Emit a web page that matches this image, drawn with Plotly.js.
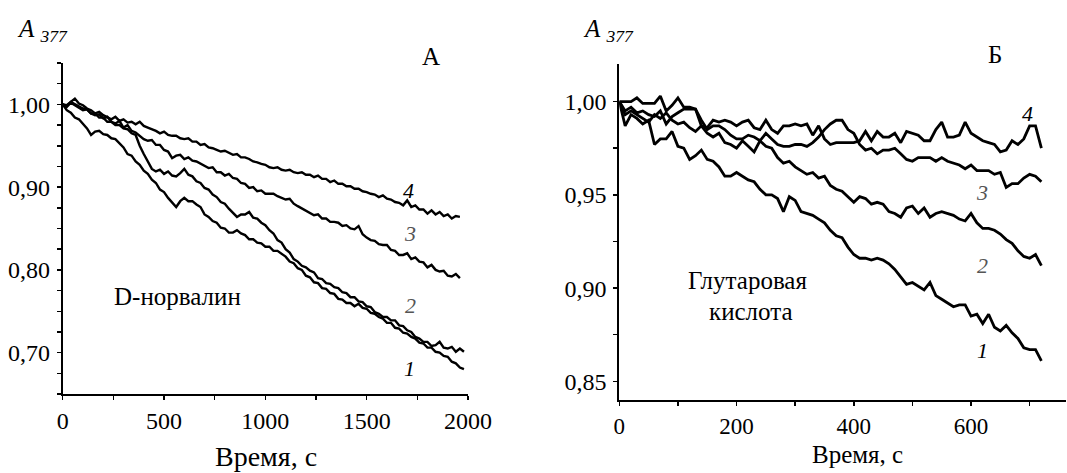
<!DOCTYPE html>
<html>
<head>
<meta charset="utf-8">
<script src="https://cdn.plot.ly/plotly-3.0.1.min.js"></script>
<style>
html,body{margin:0;padding:0;background:#fff;}
#chart{width:1067px;height:473px;}
</style>
</head>
<body>
<div id="chart"></div>
<script>
// ---------- Panel A: D-норвалин ----------
const timeA = [0,20,40,60,80,100,120,140,160,180,200,220,240,260,280,300,320,340,360,380,
  400,420,440,460,480,500,520,540,560,580,600,620,640,660,680,700,720,740,760,780,
  800,820,840,860,880,900,920,940,960,980,1000,1020,1040,1060,1080,1100,1120,1140,1160,1180,
  1200,1220,1240,1260,1280,1300,1320,1340,1360,1380,1400,1420,1440,1460,1480,1500,1520,1540,1560,1580,
  1600,1620,1640,1660,1680,1700,1720,1740,1760,1780,1800,1820,1840,1860,1880,1900,1920,1940,1960,1980];

const curveA1 = [1.000,0.993,0.990,0.984,0.982,0.976,0.971,0.963,0.967,0.968,
  0.964,0.963,0.959,0.958,0.953,0.948,0.940,0.938,0.931,0.927,
  0.920,0.916,0.909,0.905,0.897,0.894,0.887,0.881,0.876,0.883,
  0.887,0.883,0.883,0.879,0.876,0.867,0.864,0.859,0.857,0.851,
  0.850,0.845,0.845,0.848,0.844,0.842,0.837,0.837,0.833,0.832,
  0.828,0.828,0.823,0.823,0.819,0.816,0.810,0.808,0.802,0.800,
  0.793,0.791,0.785,0.784,0.778,0.777,0.772,0.771,0.765,0.764,
  0.760,0.760,0.756,0.759,0.754,0.753,0.748,0.747,0.743,0.741,
  0.736,0.736,0.730,0.729,0.724,0.723,0.719,0.717,0.712,0.711,
  0.706,0.706,0.701,0.700,0.696,0.695,0.689,0.687,0.682,0.680];

const curveA2 = [1.000,0.999,1.003,1.000,0.998,0.995,0.994,0.989,0.989,0.984,
  0.984,0.979,0.979,0.975,0.975,0.971,0.970,0.965,0.963,0.950,
  0.940,0.930,0.922,0.919,0.921,0.916,0.919,0.914,0.913,0.917,
  0.922,0.915,0.913,0.907,0.905,0.899,0.897,0.891,0.888,0.882,
  0.880,0.874,0.869,0.864,0.867,0.867,0.870,0.863,0.862,0.857,
  0.854,0.848,0.844,0.836,0.833,0.825,0.821,0.813,0.810,0.805,
  0.803,0.799,0.797,0.790,0.789,0.784,0.783,0.779,0.778,0.773,
  0.772,0.767,0.767,0.762,0.761,0.756,0.755,0.749,0.747,0.743,
  0.743,0.739,0.739,0.733,0.732,0.727,0.725,0.719,0.717,0.713,
  0.713,0.708,0.709,0.713,0.706,0.705,0.707,0.701,0.705,0.701];

const curveA3 = [1.000,0.997,1.002,0.999,0.996,0.993,0.994,0.989,0.987,0.988,
  0.983,0.985,0.979,0.977,0.980,0.972,0.975,0.968,0.966,0.962,
  0.958,0.956,0.957,0.951,0.951,0.945,0.943,0.935,0.938,0.939,
  0.934,0.936,0.932,0.931,0.928,0.926,0.923,0.924,0.918,0.918,
  0.914,0.916,0.911,0.910,0.905,0.904,0.899,0.900,0.895,0.896,
  0.892,0.892,0.892,0.889,0.887,0.885,0.886,0.880,0.877,0.874,
  0.871,0.869,0.866,0.867,0.862,0.862,0.858,0.858,0.857,0.853,
  0.854,0.850,0.849,0.853,0.843,0.839,0.836,0.835,0.831,0.830,
  0.830,0.824,0.823,0.818,0.818,0.820,0.813,0.815,0.810,0.809,
  0.803,0.806,0.800,0.798,0.799,0.793,0.792,0.795,0.790];

const curveA4 = [1.000,0.998,1.003,1.007,1.001,0.999,0.995,0.993,0.989,0.991,
  0.987,0.984,0.982,0.985,0.980,0.982,0.978,0.979,0.976,0.979,
  0.974,0.972,0.970,0.968,0.965,0.967,0.963,0.962,0.962,0.959,
  0.958,0.959,0.955,0.955,0.951,0.952,0.948,0.947,0.945,0.943,
  0.944,0.941,0.939,0.940,0.936,0.936,0.934,0.931,0.930,0.928,
  0.927,0.924,0.923,0.924,0.921,0.920,0.921,0.918,0.917,0.918,
  0.915,0.915,0.912,0.914,0.910,0.910,0.906,0.908,0.904,0.904,
  0.901,0.901,0.898,0.898,0.895,0.894,0.892,0.891,0.888,0.890,
  0.886,0.885,0.882,0.881,0.878,0.884,0.876,0.878,0.873,0.873,
  0.868,0.872,0.867,0.870,0.865,0.867,0.862,0.865,0.864];

// ---------- Panel Б: Глутаровая кислота ----------
const timeB = [0,10,20,30,40,50,60,70,80,90,100,110,120,130,140,150,160,170,180,190,
  200,210,220,230,240,250,260,270,280,290,300,310,320,330,340,350,360,370,380,390,
  400,410,420,430,440,450,460,470,480,490,500,510,520,530,540,550,560,570,580,590,
  600,610,620,630,640,650,660,670,680,690,700,710,720];

const curveB1 = [1.000,0.987,0.993,0.991,0.988,0.990,0.977,0.980,0.980,0.984,
  0.976,0.975,0.969,0.971,0.974,0.969,0.968,0.965,0.960,0.960,
  0.962,0.960,0.958,0.957,0.953,0.950,0.950,0.948,0.941,0.949,
  0.947,0.941,0.940,0.939,0.937,0.935,0.931,0.928,0.927,0.922,
  0.918,0.916,0.916,0.915,0.916,0.915,0.913,0.910,0.906,0.902,
  0.903,0.901,0.899,0.903,0.896,0.894,0.892,0.890,0.891,0.891,
  0.885,0.886,0.881,0.886,0.879,0.877,0.880,0.876,0.873,0.868,
  0.867,0.867,0.861];

const curveB2 = [1.000,0.993,0.995,0.993,0.991,0.989,0.993,0.991,0.994,0.990,
  0.988,0.989,0.986,0.984,0.987,0.983,0.981,0.983,0.978,0.977,
  0.975,0.979,0.976,0.973,0.979,0.976,0.975,0.970,0.967,0.968,
  0.965,0.963,0.961,0.962,0.959,0.960,0.955,0.953,0.952,0.949,
  0.946,0.949,0.948,0.945,0.946,0.945,0.941,0.940,0.938,0.943,
  0.944,0.940,0.943,0.938,0.940,0.941,0.940,0.939,0.937,0.936,
  0.940,0.935,0.932,0.932,0.931,0.929,0.926,0.924,0.920,0.917,
  0.916,0.918,0.912];

const curveB3 = [1.000,0.995,0.997,0.994,0.995,0.993,0.992,0.995,0.988,0.992,
  0.994,0.996,0.996,0.996,0.990,0.985,0.987,0.987,0.985,0.982,
  0.980,0.980,0.982,0.981,0.979,0.983,0.980,0.977,0.976,0.976,
  0.977,0.977,0.976,0.978,0.981,0.985,0.988,0.990,0.990,0.985,
  0.983,0.977,0.974,0.975,0.972,0.974,0.974,0.975,0.972,0.969,
  0.968,0.970,0.970,0.970,0.968,0.970,0.968,0.967,0.966,0.964,
  0.966,0.963,0.963,0.963,0.961,0.962,0.954,0.956,0.956,0.959,
  0.961,0.960,0.957];

const curveB4 = [1.000,1.000,1.000,1.002,0.999,0.999,0.999,1.003,0.995,0.998,
  1.002,0.997,0.997,0.996,0.987,0.986,0.990,0.989,0.990,0.989,
  0.987,0.989,0.990,0.986,0.985,0.990,0.985,0.983,0.987,0.987,
  0.988,0.987,0.988,0.982,0.987,0.980,0.977,0.978,0.978,0.978,
  0.978,0.979,0.984,0.979,0.984,0.981,0.981,0.983,0.978,0.984,
  0.983,0.982,0.979,0.979,0.985,0.989,0.981,0.981,0.982,0.989,
  0.983,0.981,0.979,0.978,0.977,0.973,0.974,0.979,0.977,0.980,
  0.987,0.987,0.975];

// ---------- Tick labels / texts ----------
const curveLabels = ['1','2','3','4'];
const panelLetters = ['А','Б'];
const yLabel = '<i>A</i> <sub><i>377</i></sub>';
const xLabel = 'Время, с';

const W = 1067, H = 473;
const px = v => v / W;
const py = v => 1 - v / H;

const serif = 'Liberation Serif';
const lineA = {color:'#000', width:2.4};
const lineB = {color:'#000', width:2.8};

function tr(x, y, xa, ya, line){
  return {x:x.slice(0, y.length), y:y, xaxis:xa, yaxis:ya, type:'scatter', mode:'lines',
    line:line, hoverinfo:'skip', showlegend:false};
}

const data = [
  tr(timeA, curveA1, 'x', 'y', lineA),
  tr(timeA, curveA2, 'x', 'y', lineA),
  tr(timeA, curveA3, 'x', 'y', lineA),
  tr(timeA, curveA4, 'x', 'y', lineA),
  tr(timeB, curveB1, 'x2', 'y2', lineB),
  tr(timeB, curveB2, 'x2', 'y2', lineB),
  tr(timeB, curveB3, 'x2', 'y2', lineB),
  tr(timeB, curveB4, 'x2', 'y2', lineB)
];

const tickFont = {family:serif, size:24, color:'#000'};
function axis(extra){
  return Object.assign({
    showline:true, linecolor:'#000', linewidth:2, mirror:false,
    showgrid:false, zeroline:false, ticks:'outside', ticklen:4, tickwidth:1.5, tickcolor:'#000',
    tickfont:tickFont, fixedrange:true
  }, extra);
}

const ann = [];
function addText(text, x, y, size, opts){
  ann.push(Object.assign({text:text, x:px(x), y:py(y), xref:'paper', yref:'paper', showarrow:false,
    xanchor:'center', yanchor:'middle', font:{family:serif, size:size, color:'#000'}}, opts||{}));
}
// y-axis labels
addText(yLabel, 15, 31, 25, {xanchor:'left'});
addText(yLabel, 581, 31, 25, {xanchor:'left'});
// panel letters
addText(panelLetters[0], 431, 56, 25);
addText(panelLetters[1], 995, 55, 25);
// x-axis titles
addText(xLabel, 266, 456, 28);
addText(xLabel, 857, 454, 25);
// substance names
addText('D-норвалин', 177, 296, 25);
addText('Глутаровая', 747, 296, 25, {yanchor:'bottom'});
addText('кислота', 751, 296, 25, {yanchor:'top'});
// curve numbers
const labColors = ['#000','#555','#555','#000'];
const labA = [[409,368],[410,305],[410,233],[408,190]];
const labB = [[982,350],[982,265],[982,193],[1027,113]];
for (let i=0;i<4;i++){
  addText('<i>'+curveLabels[i]+'</i>', labA[i][0], labA[i][1], 22, {font:{family:serif,size:22,color:labColors[i]}});
  addText('<i>'+curveLabels[i]+'</i>', labB[i][0], labB[i][1], 22, {font:{family:serif,size:22,color:labColors[i]}});
}

const layout = {
  width:W, height:H, margin:{l:0,r:0,t:0,b:0}, paper_bgcolor:'#fff', plot_bgcolor:'rgba(0,0,0,0)',
  separators:', ', showlegend:false, font:{family:serif, color:'#000'},
  xaxis: axis({domain:[px(62.7), px(468)], range:[0,2000], dtick:500, tick0:0, anchor:'y',
    minor:{ticks:'outside', dtick:250, ticklen:4, tickwidth:1.5, tickcolor:'#000', showgrid:false}}),
  yaxis: axis({domain:[py(394), py(63)], range:[0.65,1.05], dtick:0.1, tick0:0, tickformat:'.2f', anchor:'x',
    ticklabelstandoff:2,
    minor:{ticks:'outside', dtick:0.025, ticklen:4, tickwidth:1.5, tickcolor:'#000', showgrid:false}}),
  xaxis2: axis({domain:[px(619.3), px(1066)], range:[0,762], dtick:200, tick0:0, anchor:'y2',
    tickfont:{family:serif, size:23, color:'#000'},
    minor:{ticks:'outside', dtick:100, ticklen:4, tickwidth:1.5, tickcolor:'#000', showgrid:false}}),
  yaxis2: axis({domain:[py(400), py(64.3)], range:[0.84,1.02], dtick:0.05, tick0:0, tickformat:'.2f', anchor:'x2',
    ticklabelstandoff:2,
    minor:{ticks:'outside', dtick:0.025, ticklen:4, tickwidth:1.5, tickcolor:'#000', showgrid:false}}),
  annotations: ann
};

Plotly.newPlot('chart', data, layout, {displayModeBar:false, staticPlot:true});
</script>
</body>
</html>
